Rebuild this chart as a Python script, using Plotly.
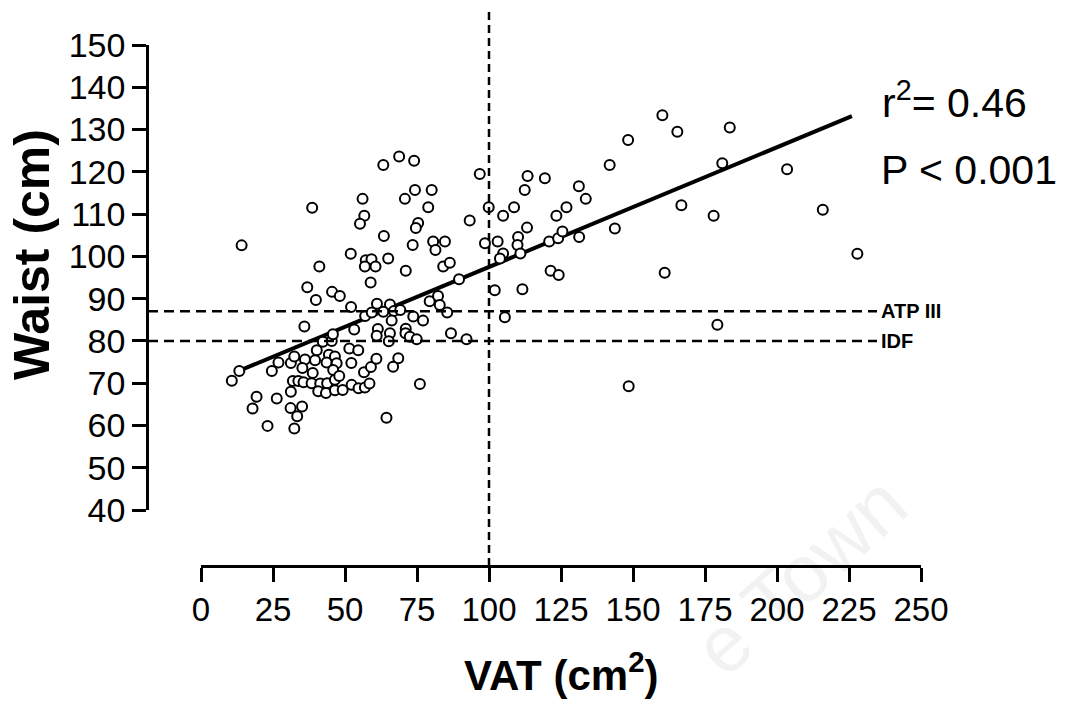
import plotly.graph_objects as go

# ---- data ----
vat = [10.7, 13.3, 17.9, 19.3, 23.1, 24.6, 26.3, 26.9, 31.2, 31.1, 35.1, 33.4, 32.4, 31.2, 31.9,
       33.8, 35.6, 38.4, 41.4, 43.8, 46.5, 32.4, 36.1, 39.6, 40.2, 42.3, 45.4, 45.8, 44.4, 46.5,
       43.6, 47.1, 45.9, 48.0, 38.8, 35.2, 40.7, 43.4, 46.5, 49.2, 52.3, 54.7, 56.9, 58.5, 51.5,
       54.6, 52.2, 56.6, 59.0, 60.9, 61.4, 61.0, 53.2, 57.0, 59.3, 52.1, 61.1, 35.9, 39.9, 45.5,
       48.2, 36.9, 41.1, 52.0, 14.1, 38.6, 56.1, 56.7, 55.2, 57.2, 59.2, 56.9, 60.6, 58.9, 63.5,
       65.0, 71.1, 73.5, 75.4, 74.6, 63.3, 68.8, 74.0, 74.3, 80.1, 70.8, 78.9, 80.6, 84.7, 81.4,
       84.1, 86.4, 89.6, 98.6, 103.0, 104.9, 103.8, 102.0, 111.6, 110.1, 109.9, 110.9, 113.2, 120.9,
       124.0, 125.5, 121.4, 124.2, 96.8, 99.9, 93.3, 104.9, 108.7, 113.4, 119.4, 112.4, 123.4, 126.9,
       65.6, 63.3, 67.0, 69.2, 79.4, 82.3, 82.9, 85.5, 73.7, 77.1, 66.2, 105.5, 71.1, 65.6, 71.0,
       72.5, 65.2, 74.9, 86.8, 92.2, 68.5, 66.7, 76.0, 64.4, 160.2, 165.4, 183.6, 148.3, 141.9,
       181.0, 203.5, 131.2, 133.6, 166.8, 178.0, 215.9, 143.7, 131.3, 227.9, 161.0, 179.3, 148.5]
waist = [70.6, 72.9, 64.0, 66.8, 59.9, 72.9, 66.4, 74.9, 74.8, 64.1, 64.5, 62.2, 59.3, 68.0, 70.5,
         70.5, 70.2, 70.0, 69.9, 70.0, 70.8, 76.3, 75.6, 75.4, 77.8, 79.8, 80.0, 81.6, 76.7, 76.3,
         74.9, 74.7, 73.1, 71.7, 72.4, 73.6, 68.1, 67.7, 68.3, 68.4, 69.6, 68.8, 69.0, 69.9, 78.2,
         77.8, 74.8, 72.6, 73.8, 75.8, 82.8, 81.2, 82.7, 85.9, 86.7, 88.0, 88.8, 83.4, 89.7, 91.6,
         90.6, 92.7, 97.6, 100.6, 102.6, 111.5, 113.6, 109.6, 107.7, 99.1, 99.3, 97.6, 97.6, 93.8, 104.8,
         99.5, 96.6, 102.7, 107.9, 106.7, 121.6, 123.6, 122.6, 115.7, 115.7, 113.6, 111.6, 103.5, 103.5, 101.5,
         97.6, 98.5, 94.6, 103.1, 103.5, 100.7, 99.5, 92.0, 92.2, 104.6, 102.7, 100.7, 106.8, 103.5,
         104.3, 105.9, 96.6, 95.6, 119.5, 111.6, 108.5, 109.6, 111.6, 119.0, 118.5, 115.7, 109.6, 111.6,
         88.6, 86.9, 87.1, 87.3, 89.4, 90.6, 88.5, 86.7, 85.8, 84.8, 84.8, 85.6, 82.9, 81.8, 81.8,
         81.0, 79.9, 80.4, 81.8, 80.4, 75.9, 73.9, 69.8, 61.8, 133.4, 129.5, 130.5, 127.5, 121.6,
         122.0, 120.6, 116.6, 113.6, 112.1, 109.6, 111.0, 106.6, 104.6, 100.6, 96.1, 83.8, 69.3]

# regression line
fit_intercept = 69.2
fit_slope = 0.283
fit_x = [13, 226]
fit_y = [fit_intercept + fit_slope * v for v in fit_x]

# reference lines
vat_cut = 100
atp_cut = 87
idf_cut = 80

x_ticks = list(range(0, 251, 25))
y_ticks = list(range(40, 151, 10))

W, H = 1067, 707
FONT = "Liberation Sans, Arial, sans-serif"

def px(x):
    return x / W

def py(y):
    return 1 - y / H

fig = go.Figure()

fig.add_trace(go.Scatter(
    x=fit_x, y=fit_y, mode="lines",
    line=dict(color="black", width=4), hoverinfo="skip", showlegend=False, cliponaxis=False))

fig.add_trace(go.Scatter(
    x=vat, y=waist, mode="markers",
    marker=dict(symbol="circle", size=10, color="white", line=dict(color="black", width=2)),
    showlegend=False, cliponaxis=False))

# dashed cut-off lines
fig.add_shape(type="line", xref="x", yref="paper", x0=vat_cut, x1=vat_cut,
              y0=py(566), y1=py(8), line=dict(color="black", width=2.5, dash="8px,5px"))
for cut in (atp_cut, idf_cut):
    fig.add_shape(type="line", xref="paper", yref="y", x0=px(148), x1=px(877),
                  y0=cut, y1=cut, line=dict(color="black", width=2.5, dash="10px,6px"))

annotations = [
    dict(text="<b>ATP III</b>", x=px(879), y=atp_cut, xref="paper", yref="y", xanchor="left",
         yanchor="middle", showarrow=False, font=dict(family=FONT, size=20, color="black")),
    dict(text="<b>IDF</b>", x=px(879), y=idf_cut, xref="paper", yref="y", xanchor="left",
         yanchor="middle", showarrow=False, font=dict(family=FONT, size=20, color="black")),
    dict(text="r<sup>2</sup>= 0.46", x=px(880), y=py(100), xref="paper", yref="paper",
         xanchor="left", yanchor="middle", showarrow=False,
         font=dict(family=FONT, size=41, color="black")),
    dict(text="P < 0.001", x=px(879), y=py(170), xref="paper", yref="paper",
         xanchor="left", yanchor="middle", showarrow=False,
         font=dict(family=FONT, size=41, color="black")),
    dict(text="<b>Waist (cm)</b>", x=px(32), y=py(255), xref="paper", yref="paper",
         xanchor="center", yanchor="middle", textangle=-90, showarrow=False,
         font=dict(family=FONT, size=50, color="black")),
    dict(text="<b>VAT (cm<sup>2</sup>)</b>", x=px(561), y=py(672), xref="paper", yref="paper",
         xanchor="center", yanchor="middle", showarrow=False,
         font=dict(family=FONT, size=42, color="black")),
    dict(text="e Town", x=px(800), y=py(575), xref="paper", yref="paper",
         xanchor="center", yanchor="middle", textangle=-42, showarrow=False,
         font=dict(family=FONT, size=80, color="rgba(0,0,0,0.05)")),
]

fig.update_layout(
    template="none",
    width=W, height=H,
    margin=dict(l=0, r=0, t=0, b=0, autoexpand=False),
    paper_bgcolor="white", plot_bgcolor="white",
    font=dict(family=FONT, color="black"),
    annotations=annotations,
    xaxis=dict(
        domain=[px(201), px(921)], range=[0, 250], anchor="free", position=py(566),
        automargin=False,
        tickmode="array", tickvals=x_ticks, ticktext=[str(t) for t in x_ticks],
        ticks="outside", ticklen=14, tickwidth=2.5, tickcolor="black",
        showline=True, linewidth=2.5, linecolor="black", showgrid=False, zeroline=False,
        tickfont=dict(family=FONT, size=33, color="black"),
    ),
    yaxis=dict(
        domain=[py(510), py(45)], range=[40, 150], anchor="free", position=px(147),
        automargin=False,
        tickmode="array", tickvals=y_ticks, ticktext=[str(t) for t in y_ticks],
        ticks="outside", ticklen=14, tickwidth=2.5, tickcolor="black",
        showline=True, linewidth=2.5, linecolor="black", showgrid=False, zeroline=False,
        tickfont=dict(family=FONT, size=34, color="black"),
    ),
)

fig.write_html(
    "out.html",
    config={"displayModeBar": False},
    post_script="document.body.style.margin='0';document.body.style.overflow='hidden';",
)
